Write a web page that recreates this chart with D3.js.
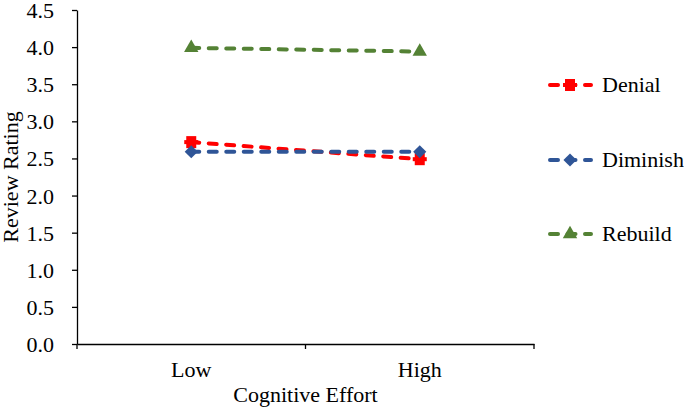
<!DOCTYPE html>
<html><head><meta charset="utf-8">
<script src="https://cdn.jsdelivr.net/npm/d3@7"></script>
<style>body{margin:0;background:#fff}svg{display:block}svg text{font-family:"Liberation Serif","Times New Roman",serif !important;fill:#000}</style>
</head><body><svg id="c" width="684" height="413"></svg>
<script>
const categories = ["Low", "High"];
const seriesNames = ["Denial", "Diminish", "Rebuild"];
const denial = [2.72, 2.49];
const diminish = [2.59, 2.59];
const rebuild = [3.99, 3.94];
const yTicks = [0, 0.5, 1, 1.5, 2, 2.5, 3, 3.5, 4, 4.5];
const colors = ["#FF0000", "#2F5597", "#548235"];
const markers = ["square", "diamond", "triangle"];

const series = [denial, diminish, rebuild].map((v, i) => ({name: seriesNames[i], values: v, color: colors[i], marker: markers[i]}));
const svg = d3.select("#c");
const L = 77, R = 534, T = 10, B = 344;
const FS = "22px";
const x = d3.scaleBand().domain(categories).range([L, R]);
const y = d3.scaleLinear().domain([0, 4.5]).range([B, T]);

const yAxis = svg.append("g").attr("transform", `translate(${L},0)`)
  .call(d3.axisLeft(y).tickValues(yTicks).tickFormat(d3.format(".1f")).tickSize(5).tickSizeOuter(0));
yAxis.attr("font-size", null).attr("font-family", null);
yAxis.select(".domain").attr("stroke", "#000").attr("stroke-width", 1.3);
yAxis.selectAll(".tick line").attr("stroke", "#000").attr("stroke-width", 1.3);
yAxis.selectAll(".tick text").style("font-size", FS).attr("x", -23).attr("dy", "0.34em");

const xAxis = svg.append("g").attr("transform", `translate(0,${B})`)
  .call(d3.axisBottom(x).tickSize(0).tickSizeOuter(0));
xAxis.attr("font-size", null).attr("font-family", null);
xAxis.select(".domain").attr("stroke", "#000").attr("stroke-width", 1.3);
xAxis.selectAll(".tick text").style("font-size", FS).attr("dy", "0").attr("y", 33);
const bounds = [L, (x("Low") + x.bandwidth() + x("High")) / 2, R];
svg.append("g").selectAll("line").data(bounds).join("line")
  .attr("x1", d => d).attr("x2", d => d).attr("y1", B).attr("y2", B + 5)
  .attr("stroke", "#000").attr("stroke-width", 1.3);

svg.append("text").attr("transform", `translate(18,${(T + B) / 2}) rotate(-90)`)
  .attr("text-anchor", "middle").style("font-size", FS).text("Review Rating");
svg.append("text").attr("x", (L + R) / 2).attr("y", 402)
  .attr("text-anchor", "middle").style("font-size", FS).text("Cognitive Effort");

function drawMarker(g, type, cx, cy, color) {
  if (type === "square") {
    g.append("rect").attr("x", cx - 5).attr("y", cy - 6).attr("width", 10).attr("height", 12).attr("fill", color);
    g.append("rect").attr("x", cx - 7).attr("y", cy - 2).attr("width", 14).attr("height", 4).attr("fill", color);
  } else if (type === "diamond") {
    g.append("path").attr("d", d3.symbol(d3.symbolDiamond2, 110)()).attr("transform", `translate(${cx},${cy})`).attr("fill", color);
  } else {
    g.append("path").attr("d", d3.symbol(d3.symbolTriangle, 90)()).attr("transform", `translate(${cx},${cy})`).attr("fill", color);
  }
}

const cx = d => x(d) + x.bandwidth() / 2;
const line = d3.line().x((d, i) => cx(categories[i])).y(d => y(d));
series.forEach(s => {
  const g = svg.append("g");
  g.append("path").attr("d", line(s.values)).attr("fill", "none").attr("stroke", s.color)
    .attr("stroke-width", 4).attr("stroke-dasharray", "8,9.5").attr("stroke-linecap", "round");
  s.values.forEach((v, i) => drawMarker(g, s.marker, cx(categories[i]), y(v), s.color));
});

const legY = [85, 160, 234];
series.forEach((s, i) => {
  const g = svg.append("g");
  g.append("line").attr("x1", 550).attr("x2", 591).attr("y1", legY[i]).attr("y2", legY[i])
    .attr("stroke", s.color).attr("stroke-width", 4).attr("stroke-dasharray", "8,9.5").attr("stroke-linecap", "round");
  drawMarker(g, s.marker, 570, legY[i], s.color);
  g.append("text").attr("x", 602).attr("y", legY[i] + 7).style("font-size", FS).text(s.name);
});
</script></body></html>
